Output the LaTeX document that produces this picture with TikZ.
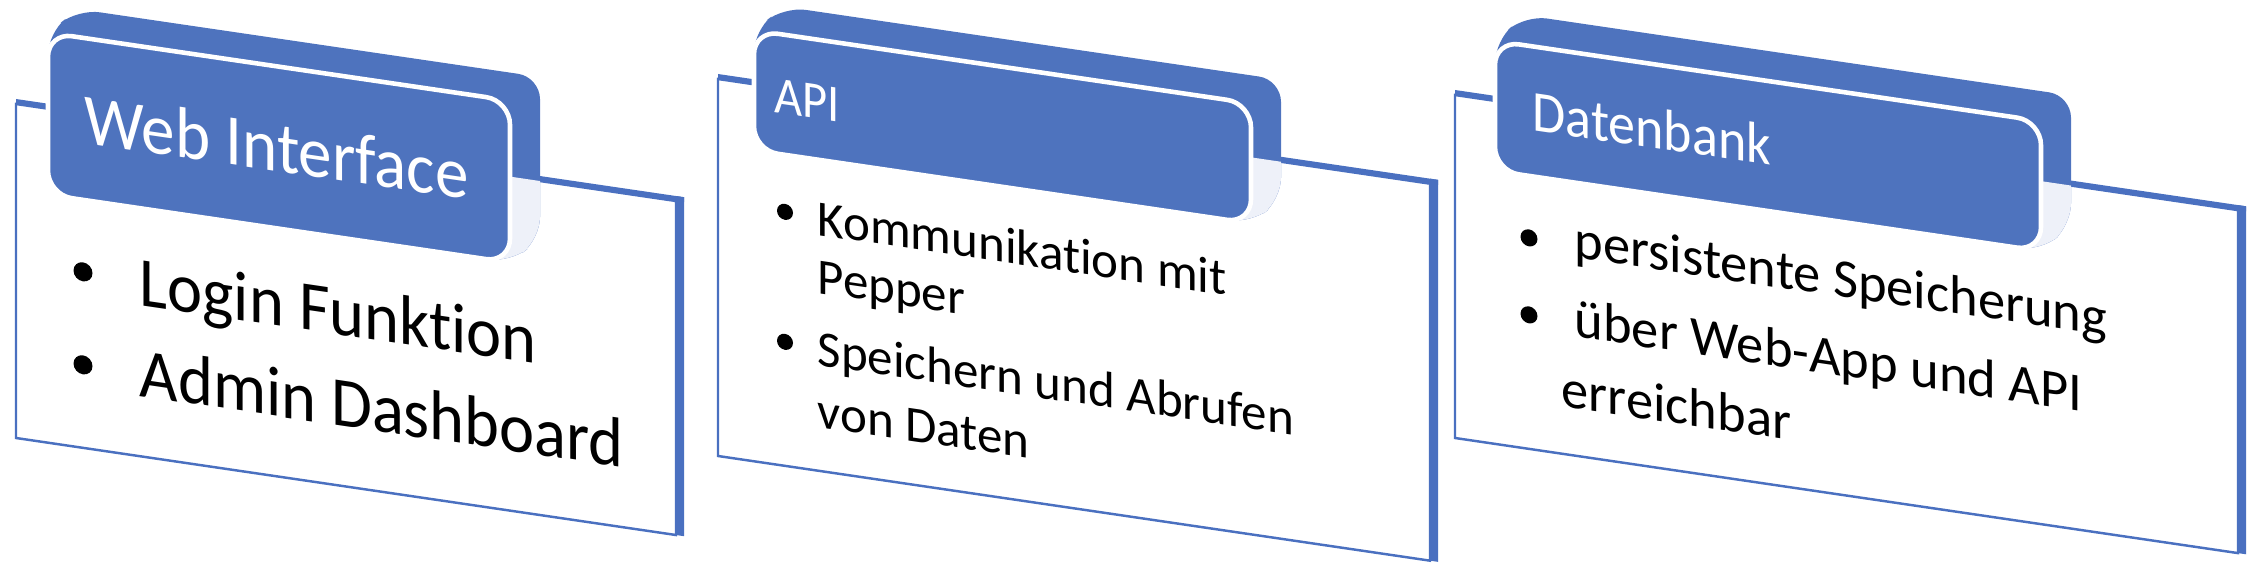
\documentclass[tikz,border=0pt]{standalone}
\usepackage{fontspec}
\setmainfont{Carlito}[Ligatures=NoCommon]
\usetikzlibrary{positioning}
\definecolor{tabblue} {HTML}{4E73BE}
\definecolor{rimblue} {HTML}{4A70C0}
\definecolor{sideblue}{HTML}{EEF1F9}
\tikzset{
  card/.style    = {fill=white, draw=rimblue, line width=0.7pt},
  rim/.style     = {fill=rimblue},
  tabbody/.style = {fill=tabblue, rounded corners=2.2mm},
  tabside/.style = {fill=sideblue, rounded corners=2.2mm},
  tabface/.style = {fill=tabblue, draw=white, line width=1.3pt, rounded corners=2.4mm},
  head/.style    = {text=white, inner sep=0pt, anchor=base west, transform shape},
  item/.style    = {text=black, inner sep=0pt, anchor=base west, transform shape},
  dot/.style     = {fill=black},
}

\begin{document}
\begin{tikzpicture}[x=0.01cm, y=-0.01cm]
  \useasboundingbox (0,0) rectangle (2256,570);

  % web interface
  \begin{scope}[shift={(16,104)}, yslant=-0.147]
    \fill[rim] (0,-5) rectangle (668,0);
    \filldraw[card] (0,0) rectangle (660,334);
    \fill[rim] (660,-5) rectangle (668,334);
    \fill[tabbody] (32,86) -- (32,-76) -- (62,-104) -- (524,-104) -- (524,58) -- (494,86) -- cycle;
    \begin{scope}
      \clip (0,0) rectangle (700,200);
      \fill[tabside] (32,86) -- (32,-76) -- (62,-104) -- (524,-104) -- (524,58) -- (494,86) -- cycle;
    \end{scope}
    \draw[tabface] (32,-76) rectangle (494,86);
    \node[head, font=\fontsize{20.5}{24}\selectfont, xscale=0.93] (webtitle) at (68,29) {Web Interface};
    \fill[dot] (67,158) circle (9.5);
    \fill[dot] (67,251) circle (9.5);
    \node[item, font=\fontsize{20}{24}\selectfont, xscale=0.945] (login) at (123,183) {Login Funktion};
    \node[item, font=\fontsize{20}{24}\selectfont, xscale=0.945] (admin) at (123,274) {Admin Dashboard};
  \end{scope}

  % api
  \begin{scope}[shift={(718,79)}, yslant=-0.147]
    \fill[rim] (0,-5) rectangle (720,0);
    \filldraw[card] (0,0) rectangle (712,377);
    \fill[rim] (712,-5) rectangle (720,377);
    \fill[tabbody] (36,66) -- (36,-54) -- (66,-82) -- (563,-82) -- (563,38) -- (533,66) -- cycle;
    \begin{scope}
      \clip (0,0) rectangle (760,200);
      \fill[tabside] (36,66) -- (36,-54) -- (66,-82) -- (563,-82) -- (563,38) -- (533,66) -- cycle;
    \end{scope}
    \draw[tabface] (36,-54) rectangle (533,66);
    \node[head, font=\fontsize{15}{18}\selectfont, xscale=0.92] (apititle) at (56,25) {API};
    \fill[dot] (67,123) circle (8);
    \fill[dot] (67,253) circle (8);
    \node[item, font=\fontsize{14.5}{17}\selectfont] (komm) at (99,141.5) {Kommunikation mit};
    \node[item, font=\fontsize{14.5}{17}\selectfont] (pepper) at (99,199.5) {Pepper};
    \node[item, font=\fontsize{14.5}{17}\selectfont] (speichern) at (99,271.5) {Speichern und Abrufen};
    \node[item, font=\fontsize{14.5}{17}\selectfont] (daten) at (99,333.5) {von Daten};
  \end{scope}

  % datenbank
  \begin{scope}[shift={(1455,95)}, yslant=-0.147]
    \fill[rim] (0,-5) rectangle (791,0);
    \filldraw[card] (0,0) rectangle (783,343);
    \fill[rim] (783,-5) rectangle (791,343);
    \fill[tabbody] (40,70) -- (40,-60) -- (70,-90) -- (616,-90) -- (616,40) -- (586,70) -- cycle;
    \begin{scope}
      \clip (0,0) rectangle (830,200);
      \fill[tabside] (40,70) -- (40,-60) -- (70,-90) -- (616,-90) -- (616,40) -- (586,70) -- cycle;
    \end{scope}
    \draw[tabface] (40,-60) rectangle (586,70);
    \node[head, font=\fontsize{16.5}{20}\selectfont, xscale=0.93] (dbtitle) at (77,24) {Datenbank};
    \fill[dot] (74,132) circle (8.5);
    \fill[dot] (74,209) circle (8.5);
    \node[item, font=\fontsize{15.5}{19}\selectfont] (persist) at (119,145) {persistente Speicherung};
    \node[item, font=\fontsize{15.5}{19}\selectfont] (ueber) at (119,224) {über Web-App und API};
    \node[item, font=\fontsize{15.5}{19}\selectfont] (erreich) at (106,296) {erreichbar};
  \end{scope}
\end{tikzpicture}
\end{document}
